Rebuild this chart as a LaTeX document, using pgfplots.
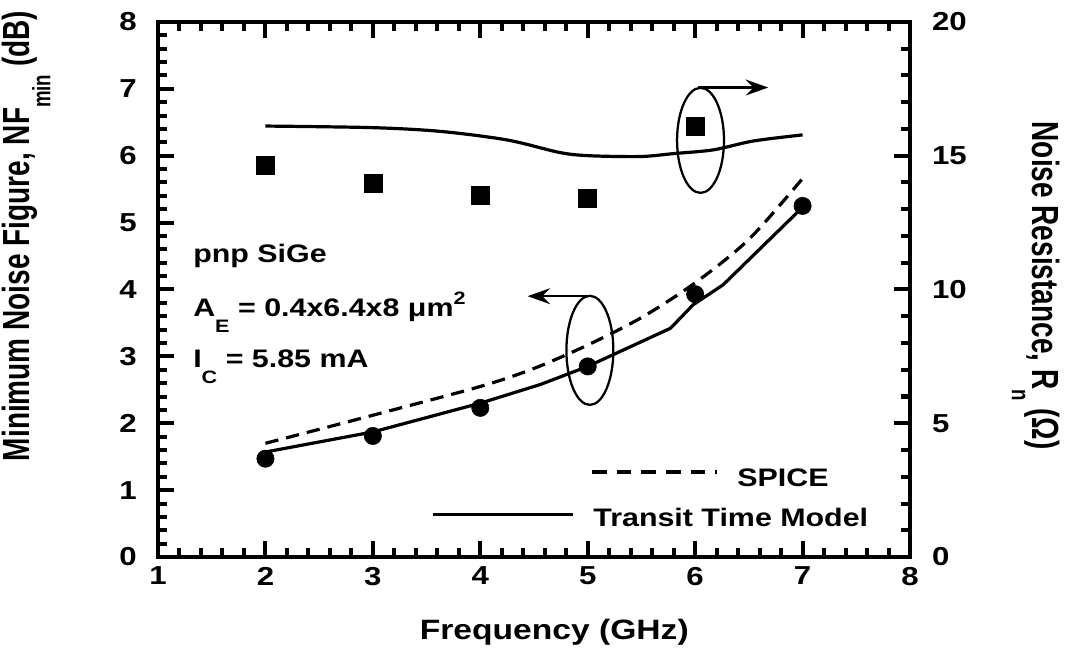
\documentclass[border=0pt]{standalone}
\usepackage{fontspec}
\setmainfont{Liberation Sans}[FakeStretch=1.2]
\newfontfamily\plainfont{Liberation Sans}
\usepackage{graphicx}
\usepackage{pgfplots}
\pgfplotsset{compat=1.18}
\usetikzlibrary{arrows.meta}

\newcommand{\lsub}[1]{\raisebox{-0.62em}{\fontsize{13.5}{13.5}\selectfont #1}}
\newcommand{\lsup}[1]{\raisebox{0.48em}{\fontsize{13.5}{13.5}\selectfont #1}}

\pgfplotsset{
  common/.style={
    scale only axis, width=564pt, height=401.25pt,
    xmin=1, xmax=8,
    tick align=inside,
    major tick length=12pt, minor tick length=7pt,
    major tick style={line width=3pt, black},
    minor tick style={line width=3pt, black},
    axis line style={line width=3.4pt, line cap=rect},
    ticklabel style={font=\bfseries\fontsize{19.5}{19.5}\selectfont},
    /pgf/number format/assume math mode=true,
    clip=false,
  }
}

\begin{document}
\begin{tikzpicture}
\begin{axis}[common,
  ymin=0, ymax=8,
  xtick={1,...,8}, ytick={0,...,8},
  minor x tick num=4, minor y tick num=4,
  xtick pos=both, ytick pos=left,
  xticklabel pos=lower,
  xticklabel style={yshift=-4pt},
  yticklabel style={xshift=-12.5pt},
  xlabel={\bfseries\fontsize{21}{21}\selectfont Frequency (GHz)},
  xlabel style={at={(axis description cs:0.527,-0.155)}, anchor=base},
  ylabel={\scalebox{1}[1.35]{\plainfont\bfseries\fontsize{21}{21}\selectfont Minimum Noise Figure, NF\raisebox{-0.55em}{\fontsize{14}{14}\selectfont min} (dB)}},
  ylabel style={at={(axis description cs:-0.175,0.60)}, anchor=center, rotate=0},
]
\coordinate (bbl) at (rel axis cs:-0.2101,-0.1832);
\coordinate (btr) at (rel axis cs:1.2074,1.0411);

% Transit time model (NFmin)
\addplot[black, line width=2.4pt, line join=round] coordinates {
  (2,1.57) (3,1.87) (4,2.30) (4.56,2.58) (5.0,2.85) (5.77,3.42) (5.98,3.77) (6.26,4.07) (7,5.23)
};
% SPICE
\addplot[black, line width=2.4pt, dash pattern=on 10pt off 6pt, smooth, tension=0.5] coordinates {
  (2,1.70) (3,2.12) (4,2.55) (4.5,2.82) (5,3.17) (5.5,3.58) (6,4.10) (6.5,4.75) (7,5.66)
};
% measured NFmin
\addplot[only marks, mark=*, mark size=6.5pt, black, mark options={line width=0.4pt}] coordinates {
  (2,1.47) (3,1.81) (4,2.23) (5,2.85) (6,3.93) (7,5.25)
};

% ellipses and arrows
\draw[line width=1.7pt] (axis cs:5.02,3.09) ellipse [x radius=17.6pt, y radius=40.9pt];
\draw[line width=1.7pt, -{Stealth[length=17pt,width=12pt,inset=6pt]}] (axis cs:5.02,3.90) -- (axis cs:4.44,3.90);
\draw[line width=1.7pt] (axis cs:6.05,6.23) ellipse [x radius=17.6pt, y radius=39.4pt];
\draw[line width=1.7pt, -{Stealth[length=17pt,width=12pt,inset=6pt]}] (axis cs:6.03,7.02) -- (axis cs:6.68,7.02);

% annotations
\node[anchor=base west, font=\bfseries\fontsize{19}{19}\selectfont, inner sep=0pt] at (axis cs:1.326,4.41) {pnp SiGe};
\node[anchor=base west, font=\bfseries\fontsize{19}{19}\selectfont, inner sep=0pt] at (axis cs:1.326,3.59) {A\lsub{E} = 0.4x6.4x8 μm\lsup{2}};
\node[anchor=base west, font=\bfseries\fontsize{19}{19}\selectfont, inner sep=0pt] at (axis cs:1.326,2.83) {I\lsub{C} = 5.85 mA};

% legend
\draw[black, line width=2.4pt, dash pattern=on 11pt off 7.5pt] (axis cs:5.04,1.27) -- (axis cs:6.20,1.27);
\node[anchor=base west, font=\bfseries\fontsize{19}{19}\selectfont, inner sep=0pt] at (axis cs:6.39,1.05) {SPICE};
\draw[black, line width=2.4pt] (axis cs:3.56,0.64) -- (axis cs:4.86,0.64);
\node[anchor=base west, font=\bfseries\fontsize{19}{19}\selectfont, inner sep=0pt] at (axis cs:5.05,0.45) {Transit Time Model};
\end{axis}

\begin{axis}[common,
  ymin=0, ymax=20,
  axis x line=none,
  axis y line*=right,
  ytick={0,5,...,20}, minor y tick num=4,
  ytick pos=right,
  yticklabel style={xshift=13pt},
  ylabel={\scalebox{1}[1.35]{\plainfont\bfseries\fontsize{21}{21}\selectfont Noise Resistance, R\raisebox{-0.55em}{\fontsize{14}{14}\selectfont n} (Ω)}},
  ylabel style={at={(axis description cs:1.1676,0.507)}, anchor=center, rotate=-180},
]
\addplot[black, line width=2.4pt, smooth, tension=0.5] coordinates {
  (2,16.11) (3,16.05) (3.63,15.91) (4.25,15.59) (4.74,15.12) (5.02,15.0) (5.49,14.97) (5.8,15.08) (6.17,15.22) (6.54,15.55) (7,15.78)
};
\addplot[only marks, mark=square*, mark size=6.75pt, black, mark options={line width=0.4pt}] coordinates {
  (2,14.64) (3,13.96) (4,13.51) (5,13.41) (6,16.12)
};
\end{axis}
\pgfresetboundingbox
\path (bbl) rectangle (btr);
\end{tikzpicture}
\end{document}
